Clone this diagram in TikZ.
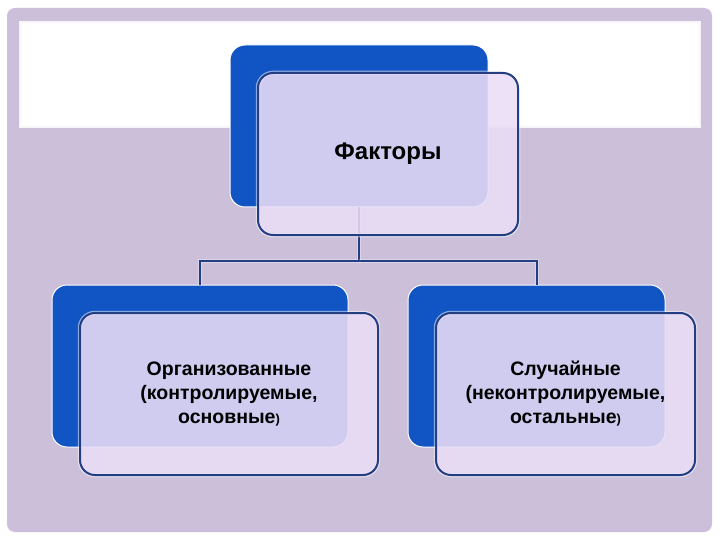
\documentclass[tikz,border=0pt]{standalone}
\usepackage{fontspec}
\setmainfont{Liberation Sans}
\usetikzlibrary{positioning,calc}
\definecolor{panel}{RGB}{203,191,217}
\definecolor{boxblue}{RGB}{17,85,196}
\definecolor{edgeblue}{RGB}{36,62,132}
\definecolor{veil}{RGB}{234,221,246}
\newcommand{\smallparen}{{\fontsize{13}{24}\selectfont)}}

\begin{document}
\begin{tikzpicture}[
    x=1pt, y=-1pt,
    back/.style={rectangle, rounded corners=15pt, fill=boxblue, draw=white, line width=1pt, inner sep=0pt, minimum height=162pt},
    front/.style={rectangle, rounded corners=15pt, fill=veil, fill opacity=0.88, text opacity=1, draw=edgeblue, line width=2pt, inner sep=0pt, minimum height=162pt, align=center, font=\bfseries\fontsize{19.5}{24}\selectfont, preaction={draw=white, draw opacity=0.5, line width=4.5pt}},
    link/.style={draw=edgeblue, line width=2pt, preaction={draw=white, draw opacity=0.35, line width=4pt}}
]
\useasboundingbox (0,0) rectangle (720,540);
% Slide background
\fill[white] (0,0) rectangle (720,540);
\fill[panel, rounded corners=8pt] (7,8) rectangle (712,532);
\draw[fill=white, draw=white!85!panel, line width=2pt] (20,22) rectangle (700,127);

% Back boxes
\node[back, minimum width=258pt] (factorsBack) at (359,126) {};
\node[back, minimum width=296pt] (leftBack) at (200,366) {};
\node[back, minimum width=257pt] (rightBack) at (536.5,366) {};

% Edges
\draw[link] (factorsBack.south) -- ++(0,53) coordinate (fork) -| (leftBack.north);
\draw[link] (fork) -| (rightBack.north);

% Front boxes
\node[front, minimum width=260pt, font=\bfseries\fontsize{24}{28}\selectfont] (factorsFront) at ($(factorsBack)+(29,28)$) {Факторы};
\node[front, minimum width=298pt] (leftFront) at ($(leftBack)+(29,28)$) {Организованные\\(контролируемые,\\основные\smallparen};
\node[front, minimum width=259pt] (rightFront) at ($(rightBack)+(29,28)$) {Случайные\\(неконтролируемые,\\остальные\smallparen};
\end{tikzpicture}
\end{document}
